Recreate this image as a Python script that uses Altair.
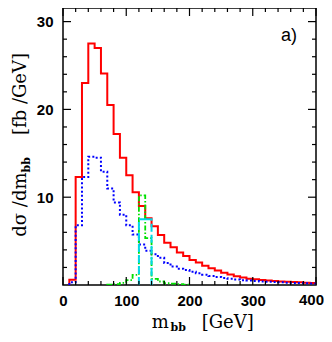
import altair as alt
import pandas as pd

# ---------------- data ----------------
bin_width = 10
red_lo = [10, 20, 30, 40, 50, 60, 70, 80, 90, 100, 110, 120, 130, 140, 150, 160, 170, 180, 190,
          200, 210, 220, 230, 240, 250, 260, 270, 280, 290, 300, 310, 320, 330, 340, 350, 360, 370, 380, 390]
red_val = [0.6, 12.3, 23.0, 27.5, 27.0, 24.1, 20.5, 17.2, 14.5, 12.5, 10.55, 9.0, 7.6, 6.7, 5.7, 4.8, 4.3, 3.7, 3.3,
           2.85, 2.55, 2.2, 1.9, 1.65, 1.4, 1.2, 1.0, 0.85, 0.72, 0.65, 0.57, 0.5, 0.45, 0.41, 0.37, 0.33, 0.3, 0.27, 0.24]

blue_lo = red_lo
blue_val = [0.3, 6.8, 12.3, 14.6, 14.5, 12.9, 11.0, 9.4, 8.0, 6.8, 5.75, 4.6, 3.9, 3.5, 3.1, 2.5, 2.1, 1.85, 1.7,
            1.5, 1.33, 1.18, 1.03, 0.9, 0.8, 0.7, 0.62, 0.55, 0.5, 0.45, 0.4, 0.36, 0.33, 0.3, 0.27, 0.24, 0.22, 0.2, 0.18]

green_lo = [70, 80, 90, 100, 110, 120, 130, 140, 150, 160, 170, 180, 190]
green_val = [0.03, 0.1, 0.25, 0.55, 1.15, 10.2, 5.35, 0.7, 0.4, 0.2, 0.15, 0.1, 0.05]

cyan_lo = [120, 130]
cyan_val = [7.5, 7.5]

x_major = [0, 100, 200, 300, 400]
x_minor = [20, 40, 60, 80, 120, 140, 160, 180, 220, 240, 260, 280, 320, 340, 360, 380]
y_major = [10, 20, 30]
y_minor = [2, 4, 6, 8, 12, 14, 16, 18, 22, 24, 26, 28]

W, H = 253, 277
MAJ, MIN = 8, 4
LABEL_FONT = "Liberation Sans"


def step_df(lo, vals):
    xs = [lo[0]] + list(lo) + [lo[-1] + bin_width]
    ys = [0] + list(vals) + [0]
    return pd.DataFrame({"x": xs, "y": ys, "o": list(range(len(xs)))})


xscale = alt.Scale(domain=[0, 400], nice=False, zero=False)
yscale = alt.Scale(domain=[0, 31.55], nice=False, zero=False)
xaxis = alt.Axis(values=x_major[:-1], title=None, ticks=False, tickSize=0, domain=False, grid=False,
                 labelFont=LABEL_FONT, labelFontSize=15, labelFontWeight="bold", labelColor="black",
                 labelPadding=8, labelFlush=False, labelOverlap=False, format="d")
yaxis = alt.Axis(values=y_major, title=None, ticks=False, tickSize=0, domain=False, grid=False,
                 labelFont=LABEL_FONT, labelFontSize=15, labelFontWeight="bold", labelColor="black",
                 labelPadding=10, labelFlush=False, labelOverlap=False, format="d")

X = alt.X("x:Q", scale=xscale, axis=xaxis)
Y = alt.Y("y:Q", scale=yscale, axis=yaxis)


def series(lo, vals, color, dash=None, sw=2.0):
    kw = dict(interpolate="step-after", color=color, strokeWidth=sw, clip=True)
    if dash:
        kw["strokeDash"] = dash
    return alt.Chart(step_df(lo, vals)).mark_line(**kw).encode(x=X, y=Y, order="o:Q")


red = series(red_lo, red_val, "#ff0000")
blue = series(blue_lo, blue_val, "#0000ff", [2, 2.2])
green = series(green_lo, green_val, "#00e000", [5, 2, 1.5, 2], 1.8)
cyan = series(cyan_lo, cyan_val, "#00d8e8", [8, 3])


def xticks(vals, length):
    df = pd.DataFrame({"x": vals})
    bot = alt.Chart(df).mark_rule(color="black", strokeWidth=1.2).encode(
        x=X, y=alt.value(H), y2=alt.value(H - length))
    top = alt.Chart(df).mark_rule(color="black", strokeWidth=1.2).encode(
        x=X, y=alt.value(0), y2=alt.value(length))
    return [bot, top]


def yticks(vals, length):
    df = pd.DataFrame({"y": vals})
    left = alt.Chart(df).mark_rule(color="black", strokeWidth=1.2).encode(
        y=Y, x=alt.value(0), x2=alt.value(length))
    right = alt.Chart(df).mark_rule(color="black", strokeWidth=1.2).encode(
        y=Y, x=alt.value(W), x2=alt.value(W - length))
    return [left, right]


def label(txt, x, y, size, font="DejaVu Serif", weight="normal", angle=0, align="left"):
    return alt.Chart(pd.DataFrame({"t": [txt]})).mark_text(
        font=font, fontSize=size, fontWeight=weight, angle=angle, align=align,
        baseline="alphabetic", color="black").encode(
        text="t:N", x=alt.value(x), y=alt.value(y))


# last x tick label drawn as text so it stays inside the page
last_lab = alt.Chart(pd.DataFrame({"x": [x_major[-1]], "t": [str(x_major[-1])]})).mark_text(
    font=LABEL_FONT, fontSize=15, fontWeight="bold", align="right", baseline="top",
    dx=8, color="black").encode(x=X, y=alt.value(H + 8), text="t:N")

texts = [
    label("m", 88.7, 319.5, 18),
    label("bb", 107.5, 323, 11, weight="bold"),
    label("[GeV]", 138.7, 319.5, 18),
    label("dσ /dm", -37.5, 228.7, 18, angle=270),
    label("bb", -33, 164.5, 11, weight="bold", angle=270),
    label("[fb /GeV]", -37.5, 127, 18, angle=270),
    label("a)", 234, 33, 18, font=LABEL_FONT, align="right"),
    last_lab,
]

layers = [red, blue, green, cyan] + xticks(x_major, MAJ) + xticks(x_minor, MIN) \
    + yticks(y_major, MAJ) + yticks(y_minor, MIN) + texts

chart = alt.layer(*layers).properties(
    width=W, height=H,
    autosize=alt.AutoSizeParams(type="none"),
    padding={"left": 55, "top": 0, "right": 8, "bottom": 49},
).configure_view(stroke="black", strokeWidth=1.5)

chart.save("out.html", embed_options={"renderer": "svg", "actions": False})
